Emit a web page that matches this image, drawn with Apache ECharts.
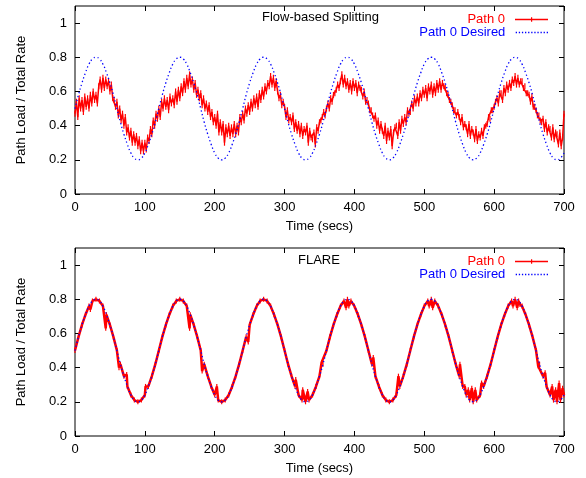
<!DOCTYPE html>
<html><head><meta charset="utf-8">
<script src="https://cdn.jsdelivr.net/npm/echarts@6/dist/echarts.min.js"></script>
<style>html,body{margin:0;padding:0;background:#fff}#c{width:586px;height:478px}</style>
</head><body><div id="c"></div>
<script>
// ---- data ----
const xMin = 0, xMax = 700, xStep = 100;
const yTicks = [0, 0.2, 0.4, 0.6, 0.8, 1];
const topTitle = 'Flow-based Splitting';
const bottomTitle = 'FLARE';
const seriesNames = ['Path 0', 'Path 0 Desired'];

// desired share, one value every 5 s (t = 0..700)
const desiredStep = 5;
const desired = [
0.5,0.58,0.65,0.71,0.76,0.79,0.8,0.79,0.76,0.71,0.65,0.58,0.5,0.42,0.35,0.29,0.24,0.21,0.2,0.21,0.24,0.29,0.35,0.42,
0.5,0.58,0.65,0.71,0.76,0.79,0.8,0.79,0.76,0.71,0.65,0.58,0.5,0.42,0.35,0.29,0.24,0.21,0.2,0.21,0.24,0.29,0.35,0.42,
0.5,0.58,0.65,0.71,0.76,0.79,0.8,0.79,0.76,0.71,0.65,0.58,0.5,0.42,0.35,0.29,0.24,0.21,0.2,0.21,0.24,0.29,0.35,0.42,
0.5,0.58,0.65,0.71,0.76,0.79,0.8,0.79,0.76,0.71,0.65,0.58,0.5,0.42,0.35,0.29,0.24,0.21,0.2,0.21,0.24,0.29,0.35,0.42,
0.5,0.58,0.65,0.71,0.76,0.79,0.8,0.79,0.76,0.71,0.65,0.58,0.5,0.42,0.35,0.29,0.24,0.21,0.2,0.21,0.24,0.29,0.35,0.42,
0.5,0.58,0.65,0.71,0.76,0.79,0.8,0.79,0.76,0.71,0.65,0.58,0.5,0.42,0.35,0.29,0.24,0.21,0.2,0.21,0.24
];

// Flow-based splitting, Path 0 measured share, one value every 2 s
const flowStep = 2;
const flowPath0 = [
0.47,0.54,0.45,0.56,0.50, 0.55,0.48,0.57,0.51,0.56, 0.50,0.58,0.53,0.60,0.55, 0.58,0.53,0.63,0.67,0.61,
0.68,0.62,0.67,0.63,0.66, 0.60,0.64,0.56,0.55,0.51, 0.54,0.46,0.50,0.43,0.47, 0.40,0.45,0.36,0.39,0.33,
0.37,0.30,0.35,0.30,0.34, 0.28,0.32,0.25,0.30,0.25, 0.30,0.26,0.33,0.31,0.38, 0.35,0.43,0.40,0.47,0.44,
0.50,0.45,0.54,0.50,0.56, 0.51,0.55,0.49,0.57,0.53, 0.56,0.52,0.60,0.54,0.61, 0.56,0.63,0.59,0.66,0.61,
0.68,0.63,0.70,0.64,0.67, 0.61,0.65,0.58,0.61,0.56, 0.59,0.52,0.56,0.50,0.53, 0.48,0.52,0.45,0.48,0.42,
0.45,0.40,0.47,0.36,0.42, 0.36,0.41,0.30,0.39,0.35, 0.40,0.34,0.39,0.35,0.41, 0.35,0.40,0.36,0.45,0.42,
0.47,0.43,0.50,0.47,0.52, 0.48,0.54,0.50,0.56,0.52, 0.57,0.51,0.59,0.55,0.61, 0.57,0.63,0.60,0.65,0.63,
0.69,0.64,0.68,0.62,0.66, 0.60,0.56,0.58,0.52,0.54, 0.51,0.45,0.49,0.43,0.45, 0.42,0.46,0.38,0.42,0.37,
0.41,0.35,0.40,0.34,0.38, 0.36,0.40,0.30,0.37,0.33, 0.32,0.36,0.29,0.39,0.37, 0.42,0.43,0.45,0.48,0.46,
0.50,0.53,0.50,0.56,0.54, 0.58,0.59,0.61,0.64,0.62, 0.66,0.70,0.64,0.68,0.63, 0.66,0.61,0.65,0.60,0.66,
0.62,0.65,0.59,0.64,0.62, 0.61,0.57,0.60,0.54,0.55, 0.53,0.49,0.49,0.46,0.44, 0.46,0.40,0.43,0.37,0.41,
0.37,0.34,0.40,0.31,0.37, 0.33,0.38,0.28,0.36,0.39, 0.40,0.34,0.42,0.37,0.44, 0.41,0.45,0.42,0.49,0.47,
0.48,0.53,0.50,0.56,0.53, 0.57,0.53,0.59,0.56,0.61, 0.58,0.62,0.56,0.63,0.60, 0.64,0.58,0.63,0.59,0.65,
0.61,0.66,0.61,0.65,0.63, 0.62,0.59,0.58,0.55,0.54, 0.52,0.49,0.49,0.46,0.48, 0.45,0.42,0.45,0.39,0.41,
0.39,0.35,0.41,0.34,0.38, 0.36,0.32,0.38,0.31,0.35, 0.33,0.37,0.34,0.39,0.40, 0.41,0.45,0.44,0.49,0.49,
0.51,0.54,0.56,0.53,0.59, 0.59,0.55,0.62,0.59,0.64, 0.61,0.65,0.62,0.67,0.65, 0.69,0.64,0.68,0.64,0.66,
0.66,0.62,0.63,0.59,0.59, 0.58,0.54,0.57,0.51,0.51, 0.49,0.46,0.46,0.43,0.42, 0.44,0.38,0.42,0.36,0.39,
0.38,0.33,0.39,0.32,0.36, 0.35,0.29,0.36,0.28,0.33,
0.47
];

// FLARE, Path 0 measured share, one value every 5 s
const flareStep = 5;
const flarePath0 = [
0.5,0.58,0.65,0.71,0.76,0.79,0.8,0.79,0.76,0.71,0.65,0.58,0.5,0.42,0.35,0.29,0.24,0.21,0.2,0.21,0.24,0.29,0.35,0.42,
0.5,0.58,0.65,0.71,0.76,0.79,0.8,0.79,0.76,0.71,0.65,0.58,0.5,0.42,0.35,0.29,0.24,0.21,0.2,0.21,0.24,0.29,0.35,0.42,
0.5,0.58,0.65,0.71,0.76,0.79,0.8,0.79,0.76,0.71,0.65,0.58,0.5,0.42,0.35,0.29,0.24,0.21,0.2,0.21,0.24,0.29,0.35,0.42,
0.5,0.58,0.65,0.71,0.76,0.79,0.8,0.79,0.76,0.71,0.65,0.58,0.5,0.42,0.35,0.29,0.24,0.21,0.2,0.21,0.24,0.29,0.35,0.42,
0.5,0.58,0.65,0.71,0.76,0.79,0.8,0.79,0.76,0.71,0.65,0.58,0.5,0.42,0.35,0.29,0.24,0.21,0.2,0.21,0.24,0.29,0.35,0.42,
0.5,0.58,0.65,0.71,0.76,0.79,0.8,0.79,0.76,0.71,0.65,0.58,0.5,0.42,0.35,0.29,0.24,0.21,0.2,0.21,0.24
];
// FLARE short excursions [time, share]
const flareSpikes = [
[22,0.74],[44,0.63],[63,0.40],[74,0.36],[101,0.29],[164,0.63],[182,0.38],[203,0.29],
[248,0.55],[316,0.33],[326,0.27],[333,0.26],[353,0.43],[388,0.75],[392,0.76],[427,0.46],
[463,0.35],[507,0.76],[512,0.75],[551,0.42],[558,0.29],[563,0.27],[568,0.28],[573,0.27],
[582,0.31],[627,0.76],[633,0.75],[637,0.77],[663,0.41],[673,0.37],[683,0.29],[688,0.27],
[693,0.31],[698,0.28]
];

// ---- build ----
const toPairs = (arr, step) => arr.map((v, i) => [i * step, v]);
const desiredPairs = toPairs(desired, desiredStep);
const flowPairs = toPairs(flowPath0, flowStep);
const flarePairs = toPairs(flarePath0, flareStep).concat(flareSpikes).sort((a, b) => a[0] - b[0]);

const FONT = 'Liberation Sans, Arial, Helvetica, sans-serif';
const FS = 13;
const RED = '#ff0000', BLUE = '#0000ff';

// legend sample shapes (gnuplot style)
const redIcon = 'path://M0,1.6h33v1.3h-33z M16,0h1.2v4.5h-1.2z';
let blueIcon = 'path://';
for (let i = 0; i < 11; i++) blueIcon += 'M' + (i * 3.1) + ',0h1.3v1.3h-1.3z ';

const grids = [
  {left: 75, right: 22, top: 6, height: 188, show: true, borderColor: '#000', borderWidth: 1},
  {left: 75, right: 22, top: 248, height: 188, show: true, borderColor: '#000', borderWidth: 1}
];

const tick = {inside: true, length: 5, lineStyle: {color: '#000', width: 1}};
const xAxes = [], yAxes = [];
[0, 1].forEach(g => {
  xAxes.push({
    gridIndex: g, type: 'value', min: xMin, max: xMax, interval: xStep, position: 'bottom',
    name: 'Time (secs)', nameLocation: 'middle', nameGap: 26,
    nameTextStyle: {color: '#000', fontSize: FS, fontFamily: FONT},
    axisLine: {show: false, onZero: false}, splitLine: {show: false}, axisTick: tick,
    axisLabel: {color: '#000', fontSize: FS, fontFamily: FONT, margin: 7}
  });
  xAxes.push({
    gridIndex: g, type: 'value', min: xMin, max: xMax, interval: xStep, position: 'top',
    axisLine: {show: false, onZero: false}, splitLine: {show: false}, axisTick: tick,
    axisLabel: {show: false}
  });
  yAxes.push({
    gridIndex: g, type: 'value', min: yTicks[0], max: 1.1, interval: 0.2, position: 'left',
    name: 'Path Load / Total Rate', nameLocation: 'middle', nameGap: 47,
    nameTextStyle: {color: '#000', fontSize: FS, fontFamily: FONT},
    axisLine: {show: false, onZero: false}, splitLine: {show: false}, axisTick: tick,
    axisLabel: {color: '#000', fontSize: FS, fontFamily: FONT, margin: 8, showMaxLabel: false,
      formatter: v => yTicks.some(t => Math.abs(t - v) < 1e-6) ? String(+v.toFixed(1)) : ''}
  });
  yAxes.push({
    gridIndex: g, type: 'value', min: yTicks[0], max: 1.1, interval: 0.2, position: 'right',
    axisLine: {show: false, onZero: false}, splitLine: {show: false}, axisTick: tick,
    axisLabel: {show: false}
  });
});

const series = [
  {name: seriesNames[0], type: 'line', xAxisIndex: 0, yAxisIndex: 0, data: flowPairs,
   symbol: 'rect', symbolSize: [1.2, 6], showSymbol: true, showAllSymbol: true,
   lineStyle: {color: RED, width: 1.5}, itemStyle: {color: RED}, z: 2, animation: false},
  {name: seriesNames[1], type: 'line', xAxisIndex: 0, yAxisIndex: 0, data: desiredPairs, smooth: true,
   showSymbol: false, symbol: 'none', lineStyle: {color: BLUE, width: 1.3, type: [1.3, 2.6]}, itemStyle: {color: BLUE}, z: 3, animation: false},
  {name: seriesNames[0], type: 'line', xAxisIndex: 2, yAxisIndex: 2, data: flarePairs,
   symbol: 'rect', symbolSize: [1.2, 5], showSymbol: true, showAllSymbol: true,
   lineStyle: {color: RED, width: 2.5}, itemStyle: {color: RED}, z: 2, animation: false},
  {name: seriesNames[1], type: 'line', xAxisIndex: 2, yAxisIndex: 2, data: desiredPairs, smooth: true,
   showSymbol: false, symbol: 'none', lineStyle: {color: BLUE, width: 1.3, type: [1.3, 2.6]}, itemStyle: {color: BLUE}, z: 3, animation: false}
];

function legendItem(name, color, icon, h, top) {
  return {
    data: [{name: name, icon: icon, textStyle: {color: color}}],
    right: 38, top: top, padding: 0, orient: 'vertical', align: 'right',
    itemWidth: 33, itemHeight: h, selectedMode: false, itemStyle: {color: color, borderWidth: 0},
    lineStyle: {width: 0},
    textStyle: {fontSize: FS, fontFamily: FONT, color: color, padding: [0, 5, 0, 0]}
  };
}

const option = {
  backgroundColor: '#fff',
  animation: false,
  title: [
    {text: topTitle, left: 262, top: 11, padding: 0, textStyle: {fontSize: FS, fontWeight: 'normal', color: '#000', fontFamily: FONT}},
    {text: bottomTitle, left: 298, top: 254, padding: 0, textStyle: {fontSize: FS, fontWeight: 'normal', color: '#000', fontFamily: FONT}}
  ],
  legend: [
    legendItem(seriesNames[0], RED, redIcon, 4.5, 13),
    legendItem(seriesNames[1], BLUE, blueIcon, 1.3, 26),
    legendItem(seriesNames[0], RED, redIcon, 4.5, 255),
    legendItem(seriesNames[1], BLUE, blueIcon, 1.3, 268)
  ],
  grid: grids,
  xAxis: xAxes,
  yAxis: yAxes,
  series: series
};

const chart = echarts.init(document.getElementById('c'), null, {renderer: 'canvas'});
chart.setOption(option);
</script>
</body></html>
